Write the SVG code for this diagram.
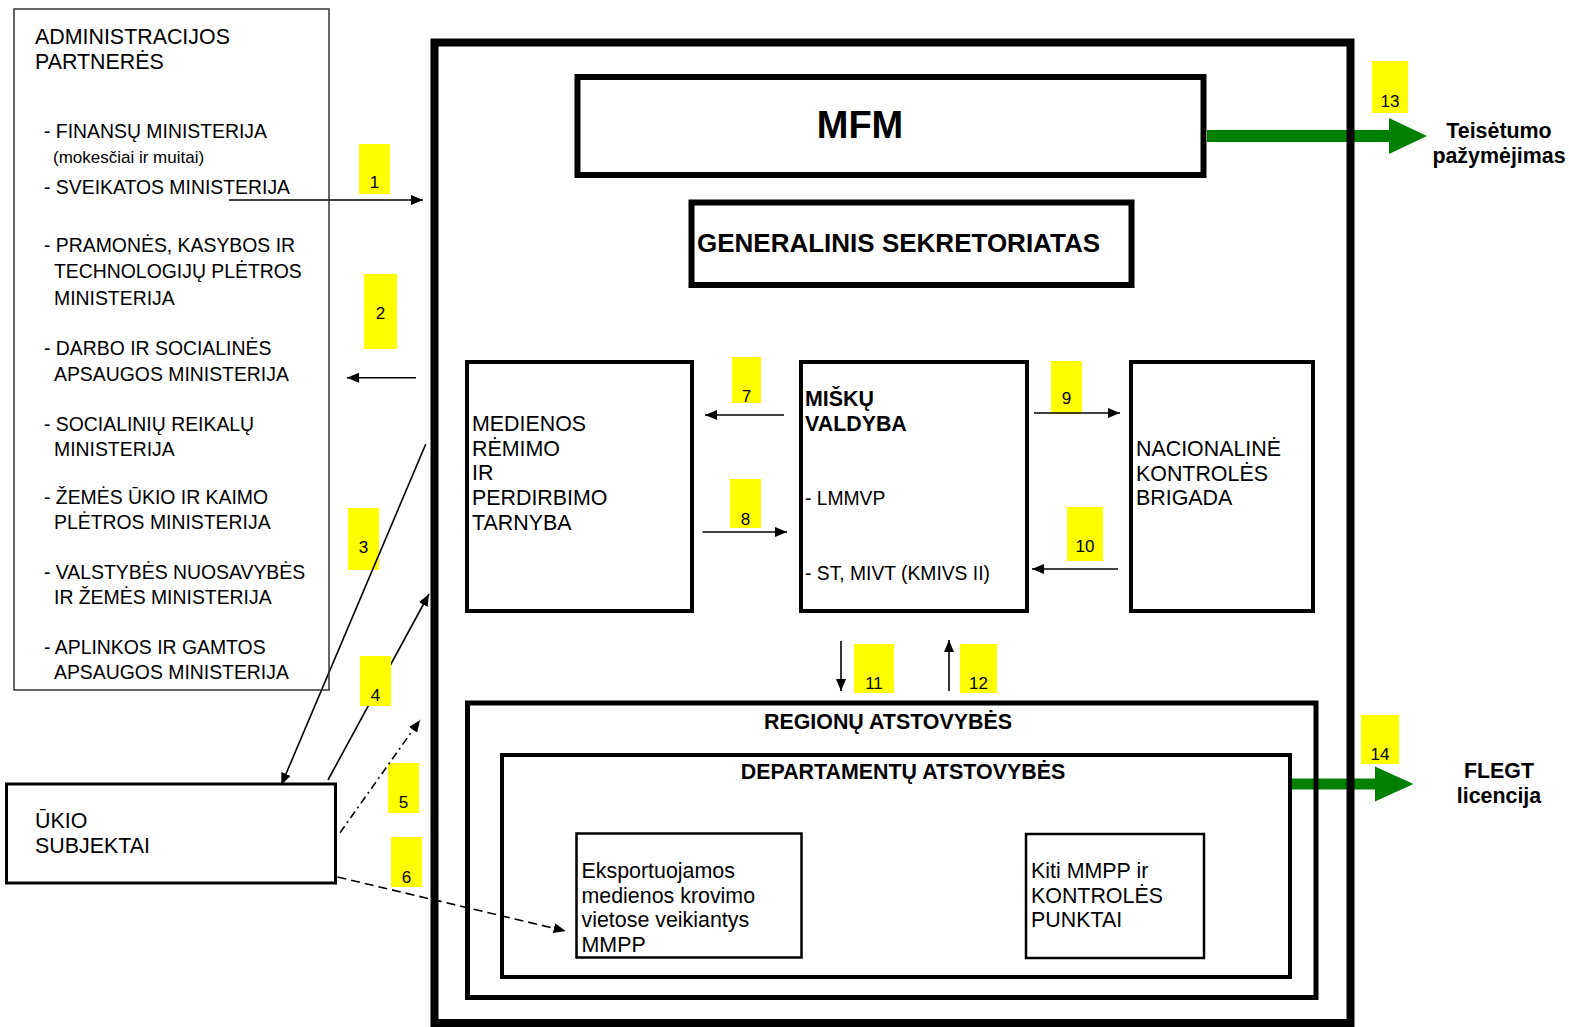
<svg xmlns="http://www.w3.org/2000/svg" width="1569" height="1027" viewBox="0 0 1569 1027">
<style>
text{font-family:"Liberation Sans",Arial,sans-serif;fill:#000}
.t{font-size:21.4px}
.b{font-size:21.4px;font-weight:bold}
.l{font-size:19.4px}
.s{font-size:17px}
.n{font-size:17px;text-anchor:middle}
.c{text-anchor:middle}
.lab{fill:#ffff00}
.ln{stroke:#000;stroke-width:1.6;fill:none}
.box{fill:none;stroke:#000}
.g{fill:#008000}
</style>
<defs>
<marker id="ah" viewBox="0 0 12 10" refX="12" refY="5" markerWidth="12" markerHeight="10" markerUnits="userSpaceOnUse" orient="auto">
<path d="M0,0 L12,5 L0,10 z" fill="#000"/>
</marker>
</defs>
<g id="labels">
<rect class="lab" x="359" y="144" width="31" height="50"/><text class="n" x="374.5" y="188">1</text>
<rect class="lab" x="364" y="274" width="33" height="75"/><text class="n" x="380.5" y="319">2</text>
<rect class="lab" x="348" y="508" width="31" height="62"/><text class="n" x="363.5" y="553">3</text>
<rect class="lab" x="388" y="763" width="31" height="50"/><text class="n" x="403.5" y="808">5</text>
<rect class="lab" x="391" y="837" width="31" height="50"/><text class="n" x="406.5" y="883">6</text>
<rect class="lab" x="732" y="357" width="29" height="46"/><text class="n" x="746.5" y="402">7</text>
<rect class="lab" x="730" y="479" width="31" height="49"/><text class="n" x="745.5" y="525">8</text>
<rect class="lab" x="1051" y="361" width="31" height="53"/><text class="n" x="1066.5" y="404">9</text>
<rect class="lab" x="1067" y="507" width="36" height="54"/><text class="n" x="1085" y="552">10</text>
<rect class="lab" x="854" y="644" width="40" height="49"/><text class="n" x="874" y="689">11</text>
<rect class="lab" x="960" y="644" width="37" height="49"/><text class="n" x="978.5" y="689">12</text>
<rect class="lab" x="1372" y="61" width="36" height="52"/><text class="n" x="1390" y="107">13</text>
<rect class="lab" x="1361" y="715" width="38" height="49"/><text class="n" x="1380" y="760">14</text>
</g>
<g id="connectors">
<line class="ln" x1="229" y1="200" x2="423" y2="200" marker-end="url(#ah)"/>
<line class="ln" x1="416" y1="377.7" x2="347" y2="377.7" marker-end="url(#ah)"/>
<line class="ln" x1="425.7" y1="444.3" x2="281.3" y2="785" marker-end="url(#ah)"/>
<line class="ln" x1="328" y1="780" x2="429" y2="594" marker-end="url(#ah)"/>
<line class="ln" x1="340" y1="832.7" x2="420" y2="720" stroke-dasharray="8 4 2 4" marker-end="url(#ah)"/>
<line class="ln" x1="337.5" y1="877" x2="565.6" y2="931" stroke-width="2" stroke-dasharray="9 5" marker-end="url(#ah)"/>
<line class="ln" x1="784" y1="415" x2="705" y2="415" marker-end="url(#ah)"/>
<line class="ln" x1="702.5" y1="532" x2="787" y2="532" marker-end="url(#ah)"/>
<line class="ln" x1="1034" y1="413" x2="1120" y2="413" marker-end="url(#ah)"/>
<line class="ln" x1="1118" y1="569" x2="1032" y2="569" marker-end="url(#ah)"/>
<line class="ln" x1="841" y1="641" x2="841" y2="691" marker-end="url(#ah)"/>
<line class="ln" x1="949" y1="691" x2="949" y2="640" marker-end="url(#ah)"/>
<polygon class="g" points="1207,130 1389,130 1389,118 1427,136 1389,154 1389,142 1207,142"/>
<polygon class="g" points="1291,778.5 1375,778.5 1375,766.5 1413.5,784 1375,801.5 1375,789.5 1291,789.5"/>
</g>
<g id="label4">
<rect class="lab" x="360" y="656" width="31" height="50"/><text class="n" x="375.5" y="701">4</text>
</g>
<g id="partners">
<rect x="14" y="9" width="315" height="681" fill="none" stroke="#333" stroke-width="1.5"/>
<text class="t" x="35" y="44">ADMINISTRACIJOS</text>
<text class="t" x="35" y="69">PARTNERĖS</text>
<text class="l" x="44" y="138">- FINANSŲ MINISTERIJA</text>
<text class="s" x="53" y="163">(mokesčiai ir muitai)</text>
<text class="l" x="44" y="194">- SVEIKATOS MINISTERIJA</text>
<text class="l" x="44" y="252">- PRAMONĖS, KASYBOS IR</text>
<text class="l" x="54" y="278">TECHNOLOGIJŲ PLĖTROS</text>
<text class="l" x="54" y="305">MINISTERIJA</text>
<text class="l" x="44" y="355">- DARBO IR SOCIALINĖS</text>
<text class="l" x="54" y="381">APSAUGOS MINISTERIJA</text>
<text class="l" x="44" y="431">- SOCIALINIŲ REIKALŲ</text>
<text class="l" x="54" y="456">MINISTERIJA</text>
<text class="l" x="44" y="504">- ŽEMĖS ŪKIO IR KAIMO</text>
<text class="l" x="54" y="529">PLĖTROS MINISTERIJA</text>
<text class="l" x="44" y="579">- VALSTYBĖS NUOSAVYBĖS</text>
<text class="l" x="54" y="604">IR ŽEMĖS MINISTERIJA</text>
<text class="l" x="44" y="654">- APLINKOS IR GAMTOS</text>
<text class="l" x="54" y="679">APSAUGOS MINISTERIJA</text>
</g>
<g id="ukio">
<rect class="box" x="6.5" y="784" width="329" height="99" stroke-width="3"/>
<text class="t" x="35" y="828">ŪKIO</text>
<text class="t" x="35" y="853">SUBJEKTAI</text>
</g>
<g id="outer">
<rect class="box" x="434.5" y="42.5" width="916" height="980.5" stroke-width="8"/>
</g>
<g id="mfm">
<rect class="box" x="577.5" y="77" width="626" height="98" stroke-width="6"/>
<text x="860" y="138" style="font-size:38px;font-weight:bold;text-anchor:middle">MFM</text>
</g>
<g id="gensek">
<rect class="box" x="691.5" y="202.5" width="440" height="82.5" stroke-width="6"/>
<text x="697" y="251.7" style="font-size:26px;font-weight:bold">GENERALINIS SEKRETORIATAS</text>
</g>
<g id="medienos">
<rect class="box" x="467" y="362" width="225" height="249" stroke-width="4"/>
<text class="t" x="472" y="431">MEDIENOS</text>
<text class="t" x="472" y="456">RĖMIMO</text>
<text class="t" x="472" y="480">IR</text>
<text class="t" x="472" y="505">PERDIRBIMO</text>
<text class="t" x="472" y="530">TARNYBA</text>
</g>
<g id="misku">
<rect class="box" x="801" y="362" width="226" height="249" stroke-width="4"/>
<text class="b" x="805" y="406">MIŠKŲ</text>
<text class="b" x="805" y="431">VALDYBA</text>
<text x="805" y="505" style="font-size:19.3px">- LMMVP</text>
<text x="805" y="580" style="font-size:19.3px">- ST, MIVT (KMIVS II)</text>
</g>
<g id="nacionaline">
<rect class="box" x="1131" y="362" width="182" height="249" stroke-width="4"/>
<text class="t" x="1136" y="456">NACIONALINĖ</text>
<text class="t" x="1136" y="481">KONTROLĖS</text>
<text class="t" x="1136" y="505">BRIGADA</text>
</g>
<g id="regionu">
<rect class="box" x="467.5" y="703" width="848.5" height="294.5" stroke-width="5"/>
<text class="b c" x="888" y="729">REGIONŲ ATSTOVYBĖS</text>
</g>
<g id="departamentu">
<rect class="box" x="502" y="755" width="788" height="222" stroke-width="4"/>
<text class="b c" x="903" y="778.7">DEPARTAMENTŲ ATSTOVYBĖS</text>
</g>
<g id="eksport">
<rect class="box" x="576.5" y="833.5" width="225" height="124" stroke-width="2.5"/>
<text class="t" x="581.5" y="877.7">Eksportuojamos</text>
<text class="t" x="581.5" y="902.7">medienos krovimo</text>
<text class="t" x="581.5" y="927">vietose veikiantys</text>
<text class="t" x="581.5" y="952">MMPP</text>
</g>
<g id="kiti">
<rect class="box" x="1026" y="834" width="178" height="124" stroke-width="2.5"/>
<text class="t" x="1031" y="877.7">Kiti MMPP ir</text>
<text class="t" x="1031" y="902.7">KONTROLĖS</text>
<text class="t" x="1031" y="927">PUNKTAI</text>
</g>
<g id="teisetumo">
<text class="b c" x="1499" y="138">Teisėtumo</text>
<text class="b c" x="1499" y="163">pažymėjimas</text>
</g>
<g id="flegt">
<text class="b c" x="1499" y="778">FLEGT</text>
<text class="b c" x="1499" y="803">licencija</text>
</g>
</svg>
